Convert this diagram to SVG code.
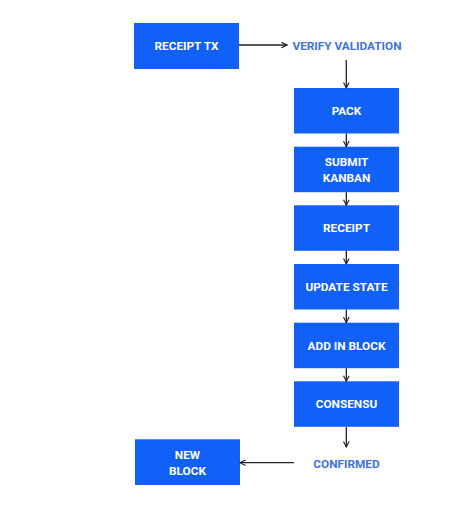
<svg xmlns="http://www.w3.org/2000/svg" width="473" height="512" viewBox="0 0 473 512">
<defs>
<marker id="ah" viewBox="0 0 10 10" refX="9" refY="5" markerWidth="7" markerHeight="7" markerUnits="userSpaceOnUse" orient="auto">
<path d="M1,1 L9,5 L1,9" fill="none" stroke="#222" stroke-width="1.6"/>
</marker>
<style>
.box{fill:#1160fa}
.t{font-family:Roboto,"Liberation Sans",sans-serif;font-weight:bold;font-size:11.8px;fill:#fff;text-anchor:middle}
.l{font-family:Roboto,"Liberation Sans",sans-serif;font-weight:bold;font-size:11.8px;fill:#3f72e3;text-anchor:middle}
.c{stroke:#222;stroke-width:1.3;fill:none;marker-end:url(#ah)}
</style>
</defs>
<rect width="473" height="512" fill="#fff"/>
<g id="receipt-tx"><rect class="box" x="134" y="23" width="105" height="46"/><text class="t" x="186.5" y="50">RECEIPT TX</text></g>
<g id="verify"><text class="l" x="347" y="49.5">VERIFY VALIDATION</text></g>
<g id="pack"><rect class="box" x="294" y="88" width="105" height="45.5"/><text class="t" x="346.5" y="114.5">PACK</text></g>
<g id="submit"><rect class="box" x="294" y="146.7" width="105" height="45.5"/><text class="t" x="346.5" y="166">SUBMIT</text><text class="t" x="346.5" y="181.5">KANBAN</text></g>
<g id="receipt"><rect class="box" x="294" y="205.3" width="105" height="45.5"/><text class="t" x="346.5" y="232">RECEIPT</text></g>
<g id="update"><rect class="box" x="294" y="264" width="105" height="45.5"/><text class="t" x="346.5" y="291">UPDATE STATE</text></g>
<g id="add"><rect class="box" x="294" y="322.7" width="105" height="45.5"/><text class="t" x="346.5" y="349.5">ADD IN BLOCK</text></g>
<g id="consensu"><rect class="box" x="294" y="381.3" width="105" height="45.5"/><text class="t" x="346.5" y="408">CONSENSU</text></g>
<g id="confirmed"><text class="l" x="346.5" y="467.5">CONFIRMED</text></g>
<g id="new-block"><rect class="box" x="135" y="439.3" width="105" height="45.7"/><text class="t" x="187.5" y="459">NEW</text><text class="t" x="187.5" y="474.5">BLOCK</text></g>
<g id="connectors">
<line class="c" x1="239" y1="45" x2="287" y2="45"/>
<line class="c" x1="346.3" y1="60" x2="346.3" y2="88"/>
<line class="c" x1="346.3" y1="133.5" x2="346.3" y2="146.7"/>
<line class="c" x1="346.3" y1="192.2" x2="346.3" y2="205.3"/>
<line class="c" x1="346.3" y1="250.8" x2="346.3" y2="264"/>
<line class="c" x1="346.3" y1="309.5" x2="346.3" y2="322.7"/>
<line class="c" x1="346.3" y1="368.2" x2="346.3" y2="381.3"/>
<line class="c" x1="346.3" y1="427" x2="346.3" y2="447"/>
<line class="c" x1="294" y1="462.7" x2="240" y2="462.7"/>
</g>
</svg>
